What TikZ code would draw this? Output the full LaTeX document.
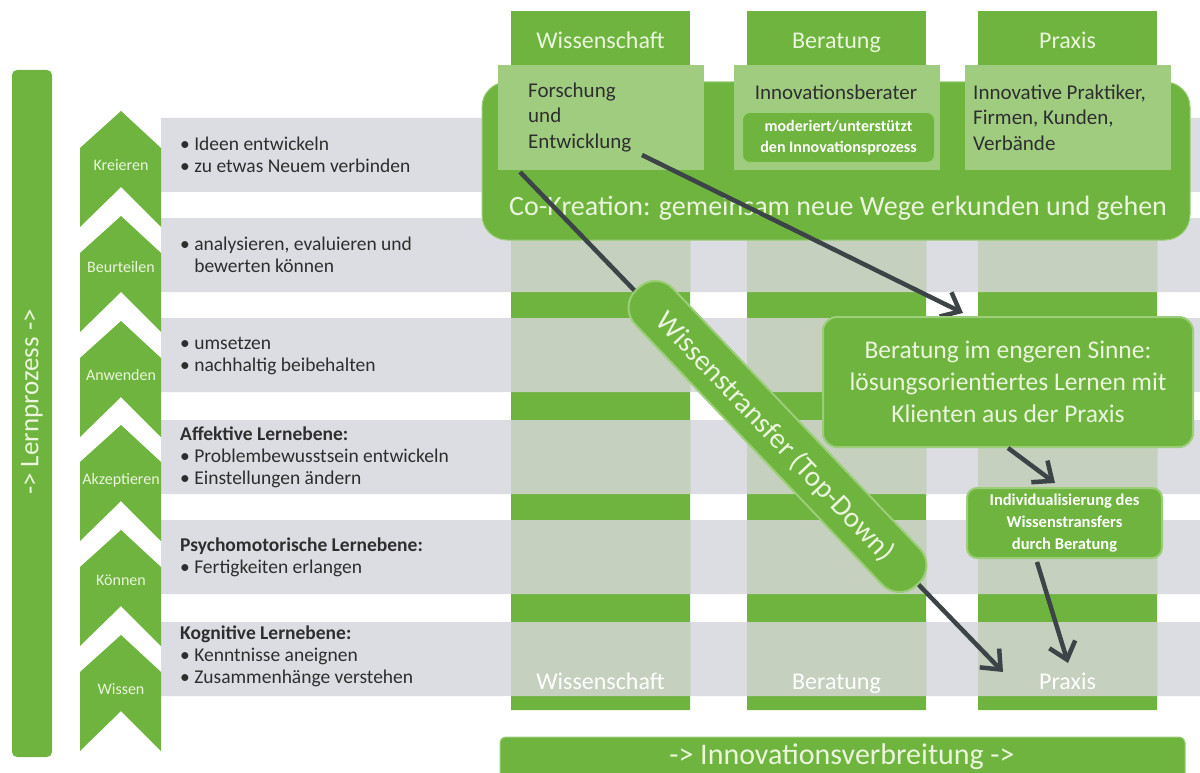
\documentclass[tikz,border=0pt]{standalone}
\usepackage{fontspec}
\setmainfont{Carlito}
\usetikzlibrary{arrows.meta}

\definecolor{leafgreen}{HTML}{6EB43F}
\definecolor{palegreen}{HTML}{A0CC80}
\definecolor{rimgreen}{HTML}{9CCD78}
\definecolor{bandgray}{HTML}{DCDDE2}
\definecolor{colgray}{HTML}{C5D0BE}
\definecolor{inkgray}{HTML}{2E2E2E}
\definecolor{arrowgray}{HTML}{3D4447}
\definecolor{paletext}{HTML}{EAF5DC}

\begin{document}
\begin{tikzpicture}[x=1pt,y=-1pt,
  chevlabel/.style={text=paletext,font=\fontsize{16}{18}\selectfont,inner sep=0,
    text height=11pt,text depth=3pt},
  rowtext/.style={anchor=west,align=left,text=inkgray,font=\fontsize{19.5}{22}\selectfont,inner sep=0},
  header/.style={fill=leafgreen,minimum width=179pt,minimum height=64pt,inner sep=0,
    text=paletext,font=\fontsize{24}{28}\selectfont,text height=17pt,text depth=5pt},
  palebox/.style={fill=palegreen,minimum width=206pt,minimum height=105pt,inner sep=0},
  boxtext/.style={align=left,text=inkgray,font=\fontsize{21}{25.5}\selectfont,inner sep=0},
  greenbox/.style={fill=leafgreen,draw=rimgreen,line width=2pt,rounded corners=14pt,inner sep=0},
  collabel/.style={text=white,font=\fontsize{24}{28}\selectfont,inner sep=0,
    text height=17pt,text depth=5pt},
  conn/.style={draw=arrowgray,line width=4.5pt,-{Straight Barb[length=16pt,width=27pt]}}
]
\useasboundingbox (0,0) rectangle (1200,773);

% rows
\fill[bandgray] (161,118) rectangle (1200,192) (161,218) rectangle (1200,292)
  (161,318) rectangle (1200,392) (161,420) rectangle (1200,494)
  (161,520) rectangle (1200,594) (161,622) rectangle (1200,696);

% columns
\fill[leafgreen] (511,218) rectangle (690,710) (747,218) rectangle (926,710)
  (978,218) rectangle (1157,710);
\begin{scope}
  \clip (511,218) rectangle (690,710) (747,218) rectangle (926,710)
    (978,218) rectangle (1157,710);
  \fill[colgray] (0,218) rectangle (1200,292) (0,318) rectangle (1200,392)
    (0,420) rectangle (1200,494) (0,520) rectangle (1200,594)
    (0,622) rectangle (1200,696);
\end{scope}

% Lernprozess
\node[fill=leafgreen,rounded corners=5pt,minimum width=40pt,minimum height=687pt] (lernbar) at (32,413.5) {};
\node[rotate=90,text=paletext,font=\fontsize{27}{30}\selectfont] (lerntext) at (32,402) {-> Lernprozess ->};

% chevrons
\fill[leafgreen] (80,148) -- (121,111) -- (161,148) -- (161,227) -- (121,187) -- (80,227) -- cycle;
\fill[leafgreen] (80,253) -- (121,216) -- (161,253) -- (161,332) -- (121,292) -- (80,332) -- cycle;
\fill[leafgreen] (80,358) -- (121,321) -- (161,358) -- (161,437) -- (121,397) -- (80,437) -- cycle;
\fill[leafgreen] (80,462) -- (121,425) -- (161,462) -- (161,541) -- (121,501) -- (80,541) -- cycle;
\fill[leafgreen] (80,567) -- (121,530) -- (161,567) -- (161,646) -- (121,606) -- (80,646) -- cycle;
\fill[leafgreen] (80,672) -- (121,635) -- (161,672) -- (161,751) -- (121,711) -- (80,751) -- cycle;
\node[chevlabel] (kreieren) at (121,167) {Kreieren};
\node[chevlabel] (beurteilen) at (121,268) {Beurteilen};
\node[chevlabel] (anwenden) at (121,376) {Anwenden};
\node[chevlabel] (akzeptieren) at (121,480) {Akzeptieren};
\node[chevlabel] (koennen) at (121,581) {Können};
\node[chevlabel] (wissen) at (121,690) {Wissen};

\node[rowtext] (row1) at (180,155) {• Ideen entwickeln\\• zu etwas Neuem verbinden};
\node[rowtext] (row2) at (180,255) {• analysieren, evaluieren und\\\hphantom{•\ }bewerten können};
\node[rowtext] (row3) at (180,356) {• umsetzen\\• nachhaltig beibehalten};
\node[rowtext] (row4) at (180,457) {\textbf{Affektive Lernebene:}\\• Problembewusstsein entwickeln\\• Einstellungen ändern};
\node[rowtext] (row5) at (180,557) {\textbf{Psychomotorische Lernebene:}\\• Fertigkeiten erlangen};
\node[rowtext] (row6) at (180,656) {\textbf{Kognitive Lernebene:}\\• Kenntnisse aneignen\\• Zusammenhänge verstehen};

% top
\node[header] (hw) at (600.5,43) {Wissenschaft};
\node[header] (hb) at (836.5,43) {Beratung};
\node[header] (hp) at (1067.5,43) {Praxis};
\node[fill=leafgreen,draw=rimgreen,line width=1pt,rounded corners=25pt,minimum width=708pt,minimum height=158pt] (cokrea) at (836,161) {};
\node[palebox] (pw) at (600.5,117.5) {};
\node[palebox] (pb) at (836.5,117.5) {};
\node[palebox] (pp) at (1067.5,117.5) {};
\node[boxtext,anchor=west] (fue) at (528,117.5) {Forschung\\und\\Entwicklung};
\node[boxtext] (berater) at (836,92) {Innovationsberater};
\node[greenbox,rounded corners=8pt,minimum width=193pt,minimum height=51pt,align=center,
  text=white,font=\bfseries\fontsize{16}{21}\selectfont] (moderiert) at (838.5,137.5)
  {moderiert/unterstützt\\den Innovationsprozess};
\node[boxtext,anchor=west] (praktiker) at (973,117.5) {Innovative Praktiker,\\Firmen, Kunden,\\Verbände};
\node[text=paletext,font=\fontsize{28}{32}\selectfont,inner sep=0] (cotext) at (838,208)
  {Co-Kreation: gemeinsam neue Wege erkunden und gehen};

% bottom labels
\node[collabel] (lw) at (600.5,683) {Wissenschaft};
\node[collabel] (lb) at (836.5,683) {Beratung};
\node[collabel] (lp) at (1067.5,683) {Praxis};

% arrows and boxes
\coordinate (fue-out) at (520,172);
\coordinate (praxis-in1) at (1003,672);
\coordinate (ent-out) at (642,155);
\coordinate (bis-in) at (963,313);
\coordinate (ind-in) at (1055,483);
\coordinate (ind-out) at (1037,562);
\coordinate (praxis-in2) at (1068,663);
\draw[conn] (fue-out) -- (praxis-in1);
\node[greenbox,rounded corners=24pt,minimum width=407pt,minimum height=52pt,rotate=-46.5] (transfer) at (777.5,436.5) {};
\node[rotate=-46.5,text=paletext,font=\fontsize{29}{32}\selectfont] (transfertext) at (775,437) {Wissenstransfer (Top-Down)};
\draw[conn] (ent-out) -- (bis-in);
\node[greenbox,minimum width=370pt,minimum height=130pt,align=center,text=paletext,
  font=\fontsize{25.5}{32}\selectfont] (bis) at (1008,382)
  {Beratung im engeren Sinne:\\lösungsorientiertes Lernen mit\\Klienten aus der Praxis};
\draw[conn] (bis.south) -- (ind-in);
\node[greenbox,rounded corners=10pt,minimum width=195pt,minimum height=70pt,align=center,text=white,
  font=\bfseries\fontsize{16.5}{22}\selectfont] (ind) at (1064.5,523)
  {Individualisierung des\\Wissenstransfers\\durch Beratung};
\draw[conn] (ind-out) -- (praxis-in2);

% Innovationsverbreitung
\node[fill=leafgreen,draw=rimgreen,line width=1pt,rounded corners=6pt,minimum width=685pt,minimum height=60pt] (spread) at (842.5,767) {};
\node[text=paletext,font=\fontsize{30}{34}\selectfont,inner sep=0] (spreadtext) at (842,757) {-> Innovationsverbreitung ->};

\end{tikzpicture}
\end{document}
